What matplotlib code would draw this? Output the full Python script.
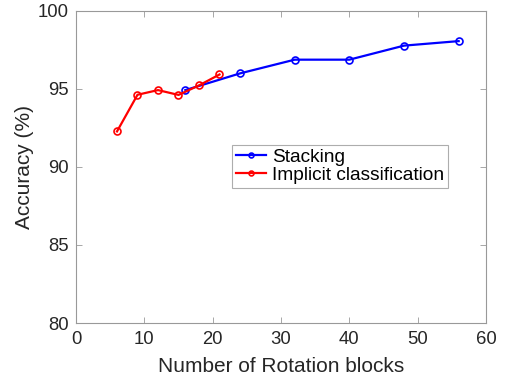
import matplotlib
matplotlib.use("Agg")
import matplotlib.pyplot as plt

# data
stack_x = [16, 24, 32, 40, 48, 56]
stack_y = [94.93, 96.0, 96.88, 96.88, 97.78, 98.07]
impl_x = [6, 9, 12, 15, 18, 21]
impl_y = [92.28, 94.63, 94.93, 94.62, 95.23, 95.93]

plt.rcParams['font.family'] = ['Liberation Sans', 'DejaVu Sans']

fig = plt.figure(figsize=(5.06, 3.81), dpi=100)
ax = fig.add_axes([76 / 506, 1 - 323 / 381, 410 / 506, 312 / 381])

ax.plot(stack_x, stack_y, color='#0000ff', lw=1.6, marker='o', ms=5,
        mfc='none', mew=1.2, label='Stacking')
ax.plot(impl_x, impl_y, color='#ff0000', lw=1.6, marker='o', ms=5,
        mfc='none', mew=1.2, label='Implicit classification')

ax.set_xlim(0, 60)
ax.set_ylim(80, 100)
ax.set_xticks(range(0, 61, 10))
ax.set_yticks(range(80, 101, 5))
ax.set_xlabel('Number of Rotation blocks', fontsize=15, color='#262626', labelpad=6)
ax.set_ylabel('Accuracy (%)', fontsize=15, color='#262626', labelpad=3)

for s in ax.spines.values():
    s.set_color('#999999')
    s.set_linewidth(0.8)
ax.tick_params(direction='in', top=True, right=True, length=4, width=0.6,
               color='#999999', labelsize=13.3, labelcolor='#262626')
ax.tick_params(axis='x', pad=6)
ax.tick_params(axis='y', pad=5)

leg = ax.legend(loc='upper left', bbox_to_anchor=(0.38, 0.572), fontsize=13.8,
                handlelength=1.6, handletextpad=0.3, borderpad=0.2,
                labelspacing=0.05, borderaxespad=0, fancybox=False,
                markerscale=0.7)
leg.get_frame().set_edgecolor('#999999')
leg.get_frame().set_linewidth(0.8)

fig.savefig('out.png', dpi=100)
